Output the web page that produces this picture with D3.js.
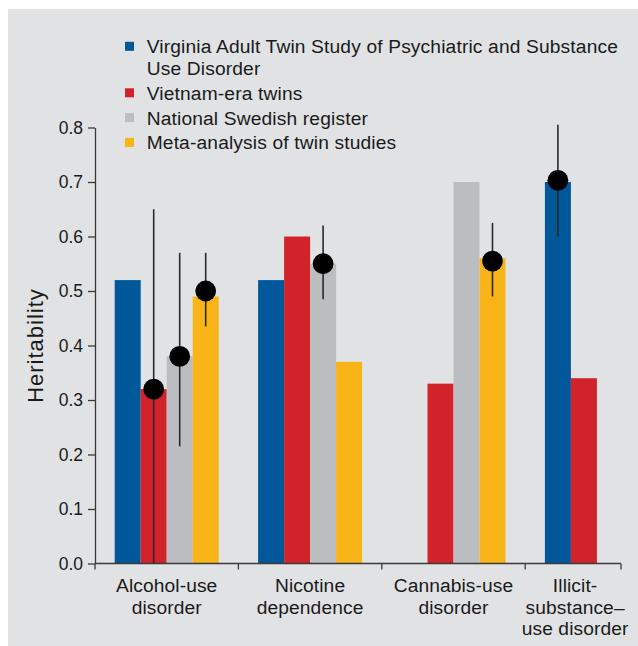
<!DOCTYPE html>
<html>
<head>
<meta charset="utf-8">
<script src="https://cdn.jsdelivr.net/npm/d3@7"></script>
<style>
  html, body { margin: 0; padding: 0; background: #ffffff; }
  svg { display: block; }
  text { font-family: "Liberation Sans", Arial, sans-serif; fill: #1a1a1a; }
</style>
</head>
<body>
<svg id="chart" width="638" height="646"></svg>
<script>
// ---------------- DATA ----------------
const categories = ["Alcohol-use disorder", "Nicotine dependence", "Cannabis-use disorder", "Illicit-substance–use disorder"];
const categoryLines = [["Alcohol-use", "disorder"], ["Nicotine", "dependence"], ["Cannabis-use", "disorder"], ["Illicit-", "substance–", "use disorder"]];
const seriesNames = ["Virginia Adult Twin Study of Psychiatric and Substance Use Disorder", "Vietnam-era twins", "National Swedish register", "Meta-analysis of twin studies"];
const legendLines = [["Virginia Adult Twin Study of Psychiatric and Substance", "Use Disorder"], ["Vietnam-era twins"], ["National Swedish register"], ["Meta-analysis of twin studies"]];
const seriesColors = ["#00589b", "#d2232a", "#bcbdc0", "#f9b418"];

// heritability bars per series (null = no bar)
const virginiaValues = [0.52, 0.52, null, 0.70];
const vietnamValues  = [0.32, 0.60, 0.33, 0.34];
const swedishValues  = [0.38, 0.55, 0.70, null];
const metaValues     = [0.49, 0.37, 0.56, null];

// point estimates with confidence intervals
const pointCategory = ["Alcohol-use disorder", "Alcohol-use disorder", "Alcohol-use disorder", "Nicotine dependence", "Cannabis-use disorder", "Illicit-substance–use disorder"];
const pointSeries   = [1, 2, 3, 2, 3, 0];
const pointEstimate = [0.32, 0.38, 0.50, 0.55, 0.555, 0.703];
const pointLow      = [0.00, 0.215, 0.435, 0.485, 0.49, 0.60];
const pointHigh     = [0.65, 0.57, 0.57, 0.62, 0.625, 0.805];

const yTicks = [0, 0.1, 0.2, 0.3, 0.4, 0.5, 0.6, 0.7, 0.8];
const yTitle = "Heritability";

// ---------------- LAYOUT ----------------
const W = 638, H = 646;
const svg = d3.select("#chart");
const axisColor = "#3a3a3a";
const labelFont = "19.2px";

svg.append("rect").attr("x", 8).attr("y", 9).attr("width", W - 8).attr("height", H - 9).attr("fill", "#e1e2e4");

const plotLeft = 95, plotBottom = 563.5, plotTop = 127.5;
const bandW = 143.4;
const axisEnd = 621;

const y = d3.scaleLinear().domain([0, 0.8]).range([plotBottom, plotTop]);
const x = d3.scaleBand().domain(categories).range([plotLeft, plotLeft + bandW * categories.length]).paddingInner(0).paddingOuter(0);
const xs = d3.scaleBand().domain(d3.range(seriesNames.length)).range([19.7, bandW - 19.7]).padding(0);

const allValues = [virginiaValues, vietnamValues, swedishValues, metaValues];

// bars
allValues.forEach((vals, si) => {
  svg.append("g").selectAll("rect")
    .data(categories.map((c, ci) => ({ c, v: vals[ci] })).filter(d => d.v != null))
    .join("rect")
    .attr("x", d => x(d.c) + xs(si))
    .attr("width", xs.bandwidth())
    .attr("y", d => y(d.v))
    .attr("height", d => y(0) - y(d.v))
    .attr("fill", seriesColors[si]);
});

// y axis
const yAxis = svg.append("g").attr("transform", `translate(${plotLeft},0)`)
  .call(d3.axisLeft(y).tickValues(yTicks).tickFormat(d3.format(".1f")).tickSize(7).tickPadding(5).tickSizeOuter(0));
yAxis.select(".domain").attr("stroke", axisColor).attr("stroke-width", 1.3);
yAxis.selectAll(".tick line").attr("stroke", axisColor).attr("stroke-width", 1.3);
yAxis.selectAll(".tick text").style("font-size", "17.5px").style("font-family", "'Liberation Sans', Arial, sans-serif").attr("fill", "#1a1a1a");

// x axis (band boundaries)
const xAxisG = svg.append("g").attr("transform", `translate(0,${plotBottom})`);
xAxisG.append("line").attr("x1", plotLeft).attr("x2", axisEnd).attr("y1", 0).attr("y2", 0)
  .attr("stroke", axisColor).attr("stroke-width", 1.3);
const boundaries = categories.map(c => x(c)).concat([axisEnd]);
xAxisG.selectAll("line.tick").data(boundaries).join("line").attr("class", "tick")
  .attr("x1", d => d).attr("x2", d => d).attr("y1", 0).attr("y2", 6)
  .attr("stroke", axisColor).attr("stroke-width", 1.3);

// x labels (one text per line)
categories.forEach((c, ci) => {
  const start = x(c), end = Math.min(x(c) + x.bandwidth(), axisEnd);
  const cx = (start + end) / 2 + (ci === categories.length - 1 ? 2 : 0);
  categoryLines[ci].forEach((ln, li) => {
    svg.append("text").attr("text-anchor", "middle").style("font-size", labelFont).style("letter-spacing", "0.1px")
      .attr("x", cx).attr("y", 592 + li * 21.6).text(ln);
  });
});

// y title
svg.append("text").attr("transform", `translate(42.5,${(plotTop + plotBottom) / 2}) rotate(-90)`)
  .attr("text-anchor", "middle").style("font-size", "22px").style("letter-spacing", "1px").text(yTitle);

// error bars and dots
const points = pointCategory.map((c, i) => ({ c, s: pointSeries[i], est: pointEstimate[i], lo: pointLow[i], hi: pointHigh[i] }));
const px = d => x(d.c) + xs(d.s) + xs.bandwidth() / 2;
svg.append("g").selectAll("line").data(points).join("line")
  .attr("x1", px).attr("x2", px).attr("y1", d => y(d.lo)).attr("y2", d => y(d.hi))
  .attr("stroke", "#2a2a2a").attr("stroke-width", 1.6);
svg.append("g").selectAll("circle").data(points).join("circle")
  .attr("cx", px).attr("cy", d => y(d.est)).attr("r", 10.4).attr("fill", "#000");

// legend
const legend = svg.append("g");
let ly = 53.3;
legendLines.forEach((lines, i) => {
  legend.append("rect").attr("x", 125).attr("y", ly - 11.5).attr("width", 9).attr("height", 9).attr("fill", seriesColors[i]);
  lines.forEach((ln, li) => {
    legend.append("text").style("font-size", labelFont).style("letter-spacing", "0.15px")
      .attr("x", 146.7).attr("y", ly + li * 21.7).text(ln);
  });
  ly += (lines.length - 1) * 21.7 + 24.8;
});
</script>
</body>
</html>
